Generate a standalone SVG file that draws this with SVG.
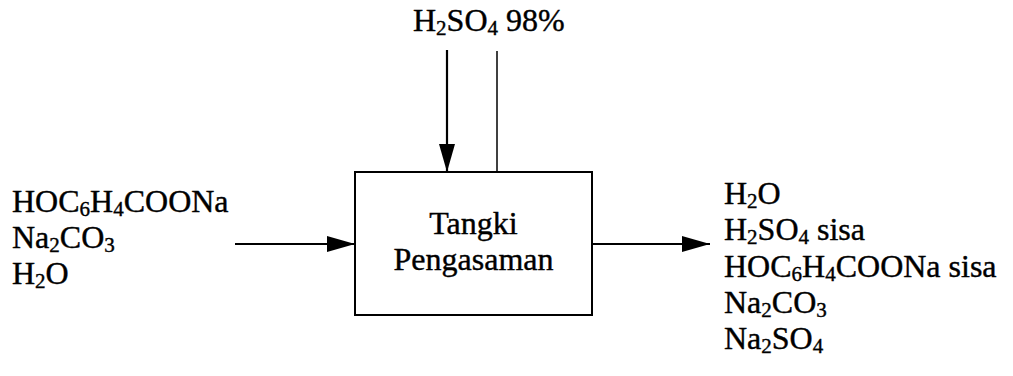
<svg xmlns="http://www.w3.org/2000/svg" width="1013" height="376" viewBox="0 0 1013 376">
  <style>
    text { font-family: "Liberation Serif", "Times New Roman", serif; font-size: 32px; fill: #000; stroke: #000; stroke-width: 0.4; }
    .sub { font-size: 21px; }
    .line { stroke: #000; stroke-width: 2.2; fill: none; }
    .thin { stroke: #000; stroke-width: 1.5; fill: none; }
    .box { stroke: #000; stroke-width: 2; fill: #fff; }
  </style>
  <defs>
    <marker id="arrow" viewBox="0 0 28 16" refX="28" refY="8" markerWidth="28" markerHeight="16" markerUnits="userSpaceOnUse" orient="auto">
      <path d="M0,0 L28,8 L0,16 Z" fill="#000"/>
    </marker>
  </defs>

  <rect width="1013" height="376" fill="#fff"/>

  <g id="connectors">
    <line class="line" x1="447" y1="50" x2="447" y2="172" marker-end="url(#arrow)"/>
    <line class="thin" x1="497" y1="51" x2="497" y2="172"/>
    <line class="line" x1="235" y1="244" x2="355" y2="244" marker-end="url(#arrow)"/>
    <line class="line" x1="592" y1="244" x2="710" y2="244" marker-end="url(#arrow)"/>
  </g>

  <g id="tank">
    <rect class="box" x="355" y="172" width="237" height="143"/>
    <text x="473.5" y="234" text-anchor="middle">Tangki</text>
    <text x="473.5" y="270" text-anchor="middle">Pengasaman</text>
  </g>

  <g id="acid-feed">
    <text x="413" y="31">H<tspan class="sub" dy="4">2</tspan><tspan dy="-4">SO</tspan><tspan class="sub" dy="4">4</tspan><tspan dy="-4"> 98%</tspan></text>
  </g>

  <g id="feed">
    <text x="12" y="212">HOC<tspan class="sub" dy="4">6</tspan><tspan dy="-4">H</tspan><tspan class="sub" dy="4">4</tspan><tspan dy="-4">COONa</tspan></text>
    <text x="12" y="248">Na<tspan class="sub" dy="4">2</tspan><tspan dy="-4">CO</tspan><tspan class="sub" dy="4">3</tspan></text>
    <text x="12" y="284">H<tspan class="sub" dy="4">2</tspan><tspan dy="-4">O</tspan></text>
  </g>

  <g id="product">
    <text x="724" y="204">H<tspan class="sub" dy="4">2</tspan><tspan dy="-4">O</tspan></text>
    <text x="724" y="240">H<tspan class="sub" dy="4">2</tspan><tspan dy="-4">SO</tspan><tspan class="sub" dy="4">4</tspan><tspan dy="-4"> sisa</tspan></text>
    <text x="724" y="277">HOC<tspan class="sub" dy="4">6</tspan><tspan dy="-4">H</tspan><tspan class="sub" dy="4">4</tspan><tspan dy="-4">COONa sisa</tspan></text>
    <text x="724" y="313">Na<tspan class="sub" dy="4">2</tspan><tspan dy="-4">CO</tspan><tspan class="sub" dy="4">3</tspan></text>
    <text x="724" y="349">Na<tspan class="sub" dy="4">2</tspan><tspan dy="-4">SO</tspan><tspan class="sub" dy="4">4</tspan></text>
  </g>
</svg>
